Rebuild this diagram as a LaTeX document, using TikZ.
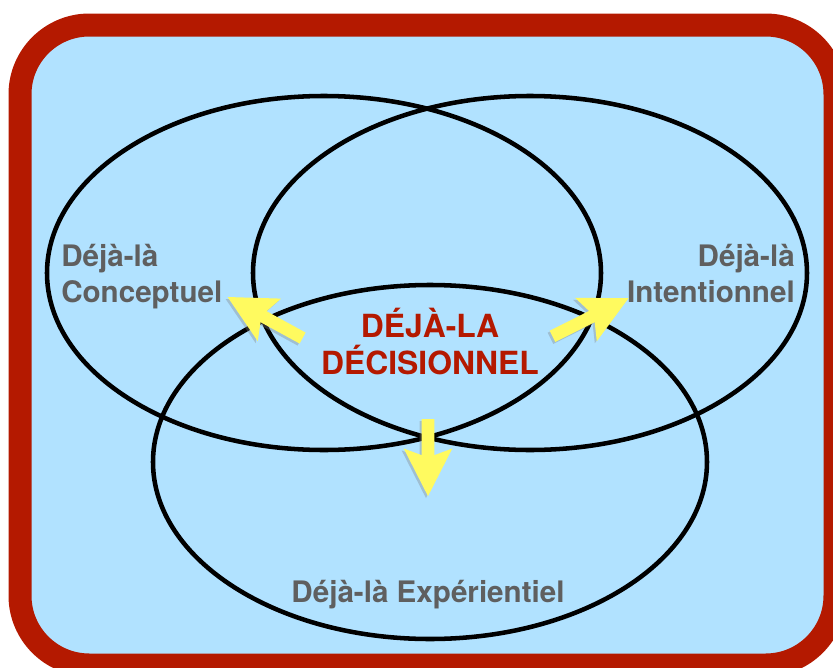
\documentclass[tikz,border=0pt]{standalone}
\usepackage{fontspec}
\setmainfont{TeX Gyre Heros}
\usepackage{tikz}
\usetikzlibrary{shapes.geometric,shapes.arrows,shadows}

\definecolor{framered}{RGB}{180,25,0}
\definecolor{skyfill}{RGB}{177,226,255}
\definecolor{labelgray}{RGB}{95,95,95}
\definecolor{arrowyellow}{RGB}{255,250,95}

\begin{document}
\begin{tikzpicture}[x=0.75pt,y=-0.75pt]
        \useasboundingbox (0,0) rectangle (833,668);
        \clip (0,0) rectangle (833,668);
        \draw[line width=17.25pt,draw=framered,fill=skyfill,rounded corners=52pt] (20,25) rectangle (835,665);

        \begin{scope}
            \tikzstyle{every node}=[draw=black,line width=3.4pt,ellipse,minimum width=415.5pt,minimum height=265.5pt,inner sep=0pt]
            \node (conc) at (324,273) {};
            \node (inte) at (530,273) {};
            \node (expe) at (430,462) {};
        \end{scope}

        \begin{scope}
            \tikzstyle{every node}=[text=labelgray,font=\bfseries\fontsize{22.2pt}{27pt}\selectfont,inner sep=0pt]
            \node[anchor=base west,align=left] (conc_lbl) at (61,302) {Déjà-là\\Conceptuel};
            \node[anchor=base east,align=right] (inte_lbl) at (795,302) {Déjà-là\\Intentionnel};
            \node[anchor=base] (expe_lbl) at (428,602) {Déjà-là Expérientiel};
        \end{scope}
        \node[text=framered,font=\bfseries\fontsize{23.9pt}{27.75pt}\selectfont,inner sep=0pt,align=center,anchor=base] (deci) at (430,374) {DÉJÀ-LA\\DÉCISIONNEL};

        \tikzstyle{fat}=[single arrow,fill=arrowyellow,inner sep=4.5pt,minimum width=36pt,single arrow head extend=13.5pt,single arrow tip angle=54,single arrow head indent=5pt,drop shadow={shadow xshift=-1.5pt,shadow yshift=-1.5pt,opacity=0.35}]
        \foreach \n / \x / \y / \a / \l in {left/270.5/320.5/151.3/85.5, right/585/320/26.6/85, down/428/451.5/-90/77} {
            \node[fat,rotate=\a,minimum height=\l*0.75pt] (arr_\n) at (\x,\y) {};
        }
\end{tikzpicture}
\end{document}
